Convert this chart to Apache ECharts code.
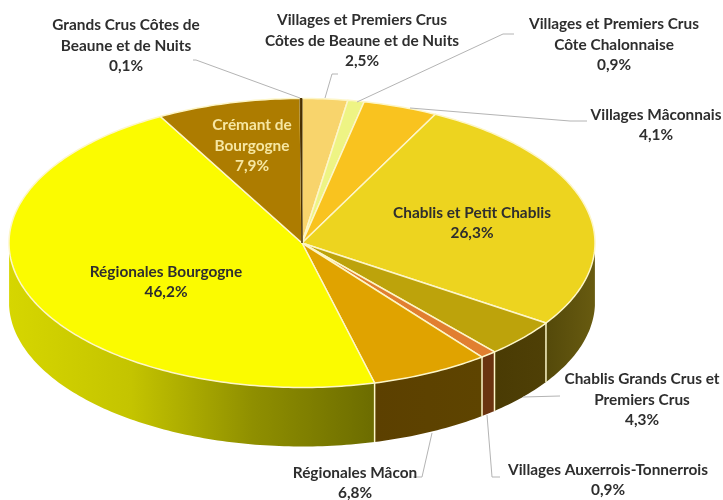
<!DOCTYPE html>
<html>
<head>
<meta charset="utf-8">
<style>
  html, body { margin: 0; padding: 0; background: #fff; }
  #main { width: 723px; height: 500px; }
</style>
<script src="https://cdn.jsdelivr.net/npm/echarts@6/dist/echarts.min.js"></script>
</head>
<body>
<div id="main"></div>
<script>
// slices clockwise from 12 o'clock
var names = [
  "Villages et Premiers Crus\nCôtes de Beaune et de Nuits",
  "Villages et Premiers Crus\nCôte Chalonnaise",
  "Villages Mâconnais",
  "Chablis et Petit Chablis",
  "Chablis Grands Crus et\nPremiers Crus",
  "Villages Auxerrois-Tonnerrois",
  "Régionales Mâcon",
  "Régionales Bourgogne",
  "Crémant de\nBourgogne",
  "Grands Crus Côtes de\nBeaune et de Nuits"
];
var values = [2.5, 0.9, 4.1, 26.3, 4.3, 0.9, 6.8, 46.2, 7.9, 0.1];
var topColors = ["#f8d46c", "#eef484", "#f9c31f", "#edd41f", "#bda30b", "#e17f30", "#e0a300", "#fbfb00", "#ad7c00", "#4a3000"];
// side wall colours, left to right (only the front half is visible)
var sideColors = [
  null, null, null,
  ["#54490a", "#685b10"],
  ["#4a3b04", "#4f4006"],
  ["#6b3410", "#6b3410"],
  ["#5c4000", "#5e4400"],
  ["#d6d600", "#c4c400", "#8f8f00", "#6c6c00"],
  null, null
];

// ellipse layout of the 3D pie
var cx = 302, cy = 243, rx = 293, ry = 144.5, depth = 59;
var skewDeg = 3; // the lower right of the pie turns a little in the original's perspective
var edgeColor = "#fdf6c8";

// label block centre + leader line, same order as names
var labelLayout = [
  { x: 362, y: 41, line: [[338, 74], [332, 74], [325, 98]] },
  { x: 614, y: 45, line: [[514, 34], [503, 34], [357, 102]] },
  { x: 656, y: 125, line: [[587, 121], [570, 121], [410, 108]] },
  { x: 472, y: 223 },
  { x: 642, y: 400, line: [[560, 396], [523, 397]] },
  { x: 608, y: 480, line: [[500, 477], [492, 477], [487, 415]] },
  { x: 355, y: 483, line: [[413, 477], [422, 477], [432, 433]] },
  { x: 166, y: 282 },
  { x: 252, y: 146, color: "#f6e7a2" },
  { x: 126, y: 46, line: [[193, 60], [196, 60], [300, 98]] }
];

var total = values.reduce(function (a, b) { return a + b; }, 0);
var starts = [];
values.reduce(function (sum, v, i) { starts[i] = sum / total; return sum + v; }, 0);

function pt(frac, dy) {
  var t = frac * Math.PI * 2;
  t += (skewDeg * Math.PI / 180) * Math.sin(t) * (1 - Math.cos(t)) / 2;
  return [cx + rx * Math.sin(t), cy - ry * Math.cos(t) + (dy || 0)];
}

function arc(a, b, dy) {
  var n = Math.max(2, Math.ceil((b - a) * 360));
  var pts = [];
  for (var i = 0; i <= n; i++) {
    pts.push(pt(a + (b - a) * i / n, dy));
  }
  return pts;
}

function renderSide(params) {
  var i = params.dataIndex;
  if (!sideColors[i]) return { type: "group", children: [] };
  var a = Math.max(starts[i], 0.25);
  var b = Math.min(starts[i] + values[i] / total, 0.75);
  var pts = arc(a, b, 0).concat(arc(a, b, depth).reverse());
  var cols = sideColors[i];
  var stops = cols.map(function (c, k) {
    return { offset: k / (cols.length - 1), color: c };
  });
  var children = [{
    type: "polygon",
    shape: { points: pts },
    style: { fill: new echarts.graphic.LinearGradient(0, 0, 1, 0, stops) }
  }];
  if (starts[i] > 0.25) {
    var p = pt(starts[i], 0), q = pt(starts[i], depth);
    children.push({
      type: "line",
      shape: { x1: p[0], y1: p[1], x2: q[0], y2: q[1] },
      style: { stroke: edgeColor, lineWidth: 1.5 }
    });
  }
  return { type: "group", children: children };
}

function renderTop(params, api) {
  var i = params.dataIndex;
  var a = starts[i];
  var b = a + api.value(0) / total;
  var thin = values[i] < 0.5;
  return {
    type: "polygon",
    shape: { points: [[cx, cy]].concat(arc(a, b, 0)) },
    style: {
      fill: topColors[i],
      stroke: thin ? topColors[i] : edgeColor,
      lineWidth: thin ? 1 : 1.5,
      lineJoin: "round"
    }
  };
}

function renderLabel(params, api) {
  var i = params.dataIndex;
  var l = labelLayout[i];
  var children = [];
  if (l.line) {
    children.push({
      type: "polyline",
      shape: { points: l.line },
      style: { stroke: "#b4b4b4", lineWidth: 1, fill: null }
    });
  }
  children.push({
    type: "text",
    style: {
      text: names[i] + "\n" + api.value(0).toFixed(1).replace(".", ",") + "%",
      x: l.x,
      y: l.y,
      align: "center",
      verticalAlign: "middle",
      fontFamily: "Lato",
      fontWeight: "bold",
      fontSize: 15.4,
      lineHeight: 20.5,
      fill: l.color || "#2e2e2e"
    }
  });
  return { type: "group", children: children };
}

var myChart = echarts.init(document.getElementById("main"));
myChart.setOption({
  backgroundColor: "#ffffff",
  animation: false,
  series: [
    { type: "custom", coordinateSystem: "none", silent: true, data: values, renderItem: renderSide, z: 1 },
    { type: "custom", coordinateSystem: "none", silent: true, data: values, renderItem: renderTop, z: 2 },
    { type: "custom", coordinateSystem: "none", silent: true, data: values, renderItem: renderLabel, z: 3 }
  ]
});
</script>
</body>
</html>
